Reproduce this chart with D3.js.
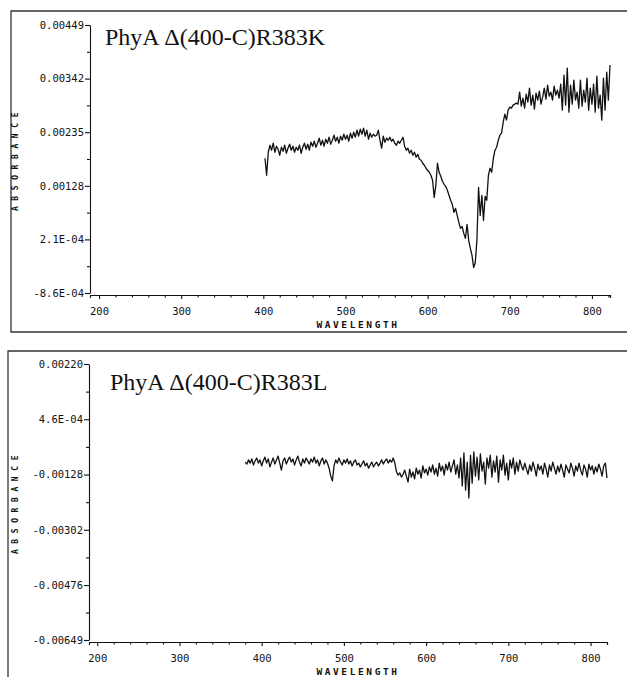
<!DOCTYPE html>
<html>
<head>
<meta charset="utf-8">
<title>PhyA absorbance spectra</title>
<script src="https://d3js.org/d3.v7.min.js"></script>
<style>
  body { margin: 0; background: #fff; }
  .axis path, .axis line { stroke: #111; stroke-width: 1.1; }
  .axis text { font-family: "DejaVu Sans Mono", monospace; font-size: 10.5px; fill: #111; }
  .frame { stroke: #333; stroke-width: 1.3; fill: none; }
  .spectrum { fill: none; stroke: #111; stroke-width: 1.3; stroke-linejoin: round; }
  .title { font-family: "Liberation Serif", "Times New Roman", serif; font-size: 24px; fill: #111; }
  .axlabel { font-family: "DejaVu Sans Mono", monospace; font-weight: bold; fill: #111; }
</style>
</head>
<body>
<svg id="chart" width="627" height="677"></svg>
<script>
// sampling grid of the scans (nm)
const wlTop = d3.range(402, 823, 2);
const wlBottom = d3.range(380, 821, 2);

// PhyA Δ(400-C)R383K, absorbance
const absTop = [
  0.00183,0.00149,0.00195,0.00209,0.00199,0.00213,0.00195,0.00207,0.00201,0.00189,
  0.00205,0.00197,0.00209,0.00193,0.00203,0.00211,0.00199,0.00207,0.00195,0.00205,
  0.00199,0.00209,0.00193,0.00205,0.00213,0.00201,0.00211,0.00199,0.00215,0.00207,
  0.00217,0.00205,0.00213,0.00223,0.00209,0.00219,0.00207,0.00221,0.00213,0.00225,
  0.00211,0.00219,0.00229,0.00217,0.00225,0.00213,0.00227,0.00219,0.00231,0.00221,
  0.00229,0.00217,0.00233,0.00223,0.00235,0.00225,0.00239,0.00227,0.00241,0.00231,
  0.00243,0.00227,0.00239,0.00221,0.00233,0.00225,0.00231,0.00227,0.00229,0.00239,
  0.00219,0.00203,0.00227,0.00215,0.00223,0.00219,0.00225,0.00217,0.00221,0.00213,
  0.00209,0.00217,0.00213,0.00219,0.00225,0.00207,0.00199,0.00203,0.00193,0.00199,
  0.00189,0.00195,0.00185,0.00191,0.00181,0.00179,0.00173,0.00169,0.00163,0.00159,
  0.00155,0.00149,0.00139,0.00105,0.00129,0.00173,0.00155,0.00147,0.00137,0.00131,
  0.00127,0.00119,0.00109,0.00099,0.00091,0.00075,0.00083,0.00069,0.00055,0.00043,
  0.00047,0.00033,0.00023,0.00051,0.00019,0.00003,-0.00011,-0.00035,-0.00025,0.00019,
  0.00125,0.00069,0.00109,0.00059,0.00107,0.00099,0.00149,0.00163,0.00155,0.00183,
  0.00199,0.00205,0.00219,0.00229,0.00233,0.00255,0.00271,0.00259,0.00279,0.00285,
  0.00283,0.00289,0.00291,0.00293,0.00291,0.00315,0.00287,0.00303,0.00283,0.00311,
  0.00295,0.00323,0.00289,0.00309,0.00281,0.00313,0.00299,0.00317,0.00291,0.00305,
  0.00323,0.00301,0.00329,0.00307,0.00315,0.00299,0.00327,0.00309,0.00319,0.00303,
  0.00331,0.00279,0.00349,0.00289,0.00363,0.00275,0.00329,0.00291,0.00339,0.00299,
  0.00315,0.00283,0.00339,0.00287,0.00319,0.00295,0.00343,0.00279,0.00323,0.00291,
  0.00331,0.00275,0.00347,0.00283,0.00309,0.00259,0.00343,0.00279,0.00355,0.00299,
  0.00369
];

// PhyA Δ(400-C)R383L
const absBottom = [
  -0.00089,-0.00095,-0.00082,-0.00092,-0.00079,-0.00098,-0.00085,-0.00076,-0.00092,-0.00082,
  -0.00101,-0.00085,-0.00073,-0.00092,-0.00079,-0.00104,-0.00089,-0.00076,-0.00095,-0.00082,
  -0.00070,-0.00092,-0.00114,-0.00085,-0.00076,-0.00095,-0.00082,-0.00073,-0.00089,-0.00079,
  -0.00098,-0.00082,-0.00070,-0.00089,-0.00101,-0.00079,-0.00092,-0.00076,-0.00085,-0.00095,
  -0.00079,-0.00089,-0.00073,-0.00092,-0.00082,-0.00101,-0.00085,-0.00076,-0.00095,-0.00082,
  -0.00092,-0.00108,-0.00133,-0.00148,-0.00101,-0.00082,-0.00092,-0.00076,-0.00089,-0.00098,
  -0.00082,-0.00092,-0.00079,-0.00095,-0.00085,-0.00101,-0.00089,-0.00082,-0.00098,-0.00092,
  -0.00104,-0.00095,-0.00085,-0.00101,-0.00092,-0.00108,-0.00098,-0.00089,-0.00104,-0.00095,
  -0.00089,-0.00101,-0.00092,-0.00082,-0.00095,-0.00085,-0.00079,-0.00092,-0.00082,-0.00089,
  -0.00076,-0.00092,-0.00120,-0.00130,-0.00123,-0.00136,-0.00127,-0.00114,-0.00133,-0.00152,
  -0.00111,-0.00136,-0.00120,-0.00142,-0.00108,-0.00127,-0.00114,-0.00139,-0.00101,-0.00123,
  -0.00111,-0.00130,-0.00104,-0.00120,-0.00098,-0.00127,-0.00108,-0.00133,-0.00092,-0.00117,
  -0.00101,-0.00130,-0.00095,-0.00114,-0.00089,-0.00120,-0.00101,-0.00082,-0.00127,-0.00098,
  -0.00139,-0.00076,-0.00164,-0.00060,-0.00177,-0.00089,-0.00202,-0.00067,-0.00155,-0.00057,
  -0.00133,-0.00073,-0.00145,-0.00063,-0.00117,-0.00089,-0.00158,-0.00076,-0.00108,-0.00067,
  -0.00136,-0.00085,-0.00120,-0.00070,-0.00152,-0.00082,-0.00114,-0.00067,-0.00130,-0.00092,
  -0.00145,-0.00082,-0.00108,-0.00076,-0.00127,-0.00089,-0.00117,-0.00082,-0.00101,-0.00114,
  -0.00092,-0.00111,-0.00127,-0.00098,-0.00117,-0.00089,-0.00108,-0.00133,-0.00095,-0.00114,
  -0.00101,-0.00127,-0.00092,-0.00111,-0.00136,-0.00098,-0.00117,-0.00089,-0.00108,-0.00127,
  -0.00101,-0.00120,-0.00095,-0.00114,-0.00136,-0.00098,-0.00111,-0.00123,-0.00092,-0.00108,
  -0.00133,-0.00101,-0.00117,-0.00092,-0.00114,-0.00130,-0.00098,-0.00111,-0.00136,-0.00095,
  -0.00114,-0.00101,-0.00127,-0.00104,-0.00120,-0.00095,-0.00111,-0.00133,-0.00101,-0.00092,
  -0.00139
];

const xTicks = [200, 300, 400, 500, 600, 700, 800];
const yTicksTop = [-0.00086, 0.00021, 0.00128, 0.00235, 0.00342, 0.00449];
const yLabelsTop = ["-8.6E-04", "2.1E-04", "0.00128", "0.00235", "0.00342", "0.00449"];
const yTicksBottom = [-0.00649, -0.00476, -0.00302, -0.00128, 0.00046, 0.00220];
const yLabelsBottom = ["-0.00649", "-0.00476", "-0.00302", "-0.00128", "4.6E-04", "0.00220"];

const svg = d3.select("#chart");

const panels = [
  { wl: wlTop, abs: absTop, yTicks: yTicksTop, yLabels: yLabelsTop,
    title: "PhyA Δ(400-C)R383K", titleX: 105, titleY: 45,
    frameTop: 11, frameBottom: 332, frameLeft: 11,
    left: 90, right: 610, top: 25, bottom: 293, xDomain: [189, 822] },
  { wl: wlBottom, abs: absBottom, yTicks: yTicksBottom, yLabels: yLabelsBottom,
    title: "PhyA Δ(400-C)R383L", titleX: 110, titleY: 390,
    frameTop: 351, frameBottom: 700, frameLeft: 8,
    left: 89, right: 607, top: 364, bottom: 640, xDomain: [190, 820] }
];

panels.forEach(p => {
  const g = svg.append("g");

  // border of the printout
  g.append("path").attr("class", "frame")
    .attr("d", `M627,${p.frameTop}H${p.frameLeft}V${p.frameBottom}H627`);

  const x = d3.scaleLinear().domain(p.xDomain).range([p.left, p.right]);
  const y = d3.scaleLinear().domain([p.yTicks[0], p.yTicks[p.yTicks.length - 1]])
    .range([p.bottom, p.top]);
  const axisY = p.bottom + 2;

  // minor ticks
  const xMinor = d3.range(200, p.xDomain[1], 20).filter(v => v % 100 !== 0);
  g.append("g").attr("class", "axis")
    .attr("transform", `translate(0,${axisY})`)
    .call(d3.axisBottom(x).tickValues(xMinor).tickSize(2.5).tickFormat(""));
  const yMinor = d3.pairs(p.yTicks).map(([a, b]) => (a + b) / 2);
  g.append("g").attr("class", "axis")
    .attr("transform", `translate(${p.left},0)`)
    .call(d3.axisLeft(y).tickValues(yMinor).tickSize(3).tickFormat(""))
    .select(".domain").remove();

  // major axes
  g.append("g").attr("class", "axis")
    .attr("transform", `translate(0,${axisY})`)
    .call(d3.axisBottom(x).tickValues(xTicks).tickSize(4).tickSizeOuter(3).tickPadding(9)
      .tickFormat(d3.format("d")));
  g.append("g").attr("class", "axis")
    .attr("transform", `translate(${p.left},0)`)
    .call(d3.axisLeft(y).tickValues(p.yTicks).tickSize(5).tickSizeOuter(0).tickPadding(1)
      .tickFormat((d, i) => p.yLabels[i]));

  // axis titles
  g.append("text").attr("class", "axlabel")
    .attr("x", 358).attr("y", p.bottom + 35)
    .attr("text-anchor", "middle")
    .style("font-size", "9.5px").style("letter-spacing", "2.6px")
    .text("WAVELENGTH");
  g.append("text").attr("class", "axlabel")
    .attr("transform", `translate(18,${(p.top + p.bottom) / 2}) rotate(-90)`)
    .attr("text-anchor", "middle")
    .style("font-size", "8px").style("letter-spacing", "5.6px")
    .text("ABSORBANCE");

  // spectrum
  const line = d3.line().x(d => x(d[0])).y(d => y(d[1]));
  g.append("path").attr("class", "spectrum")
    .attr("d", line(d3.zip(p.wl, p.abs)));

  g.append("text").attr("class", "title")
    .attr("x", p.titleX).attr("y", p.titleY)
    .text(p.title);
});
</script>
</body>
</html>
